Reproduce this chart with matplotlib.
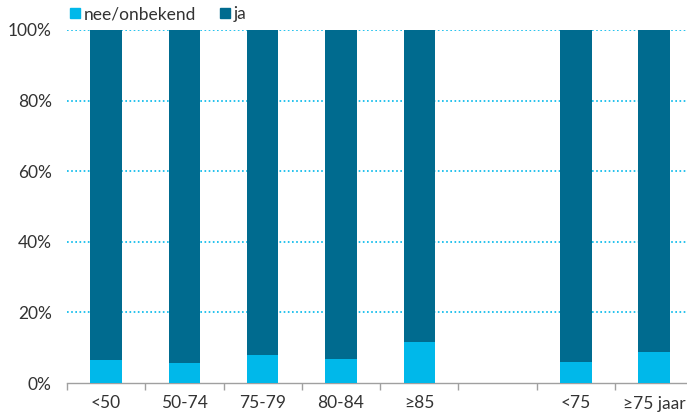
import numpy as np
import matplotlib.pyplot as plt
from matplotlib.lines import Line2D

plt.rcParams['font.family'] = ['Lato', 'DejaVu Sans']

categories = ['<50', '50-74', '75-79', '80-84', '≥85', '', '<75', '≥75 jaar']
nee = [6.5, 5.7, 8.0, 6.8, 11.5, np.nan, 5.9, 8.9]  # nee/onbekend, %
ja = [100 - v for v in nee]

c_nee = '#00b8ea'
c_ja = '#006b8f'

fig = plt.figure(figsize=(6.87, 4.17), dpi=100)
ax = fig.add_axes([67 / 687, 1 - 383 / 417, (693.3 - 67) / 687, (383 - 30) / 417])

x = np.arange(len(categories))
w = 0.40
ax.bar(x, nee, w, color=c_nee, zorder=3)
ax.bar(x, ja, w, bottom=nee, color=c_ja, zorder=3)

ax.set_xlim(-0.5, len(categories) - 0.5)
ax.set_ylim(0, 100)

# dotted grid
for v in range(20, 101, 20):
    ax.axhline(v, color=c_nee, linestyle=(0, (1, 1.5)), linewidth=1.2, zorder=1)

ax.set_yticks(range(0, 101, 20))
ax.set_yticklabels([f'{v}%' for v in range(0, 101, 20)], fontsize=12.5, color='#333333')
ax.tick_params(axis='y', length=0, pad=11)

ax.set_xticks(x)
ax.set_xticklabels(categories, fontsize=12.5, color='#333333')
ax.set_xticks(np.arange(-0.5, len(categories), 1), minor=True)
ax.tick_params(axis='x', which='major', length=0, pad=9)
ax.tick_params(axis='x', which='minor', length=5, color='#a0a0a0', width=1)

for s in ['top', 'right', 'left']:
    ax.spines[s].set_visible(False)
ax.spines['bottom'].set_color('#a0a0a0')
ax.spines['bottom'].set_linewidth(1)

handles = [Line2D([], [], marker='s', linestyle='none', color=c_nee, markersize=7),
           Line2D([], [], marker='s', linestyle='none', color=c_ja, markersize=7)]
fig.legend(handles, ['nee/onbekend', 'ja'], loc='center left', bbox_to_anchor=(59 / 687, 1 - 14 / 417),
           ncol=2, frameon=False, fontsize=12.5, handletextpad=0.05, columnspacing=1.2,
           handlelength=0.9, labelcolor='#333333', borderpad=0)

fig.savefig('out.png', dpi=100)
